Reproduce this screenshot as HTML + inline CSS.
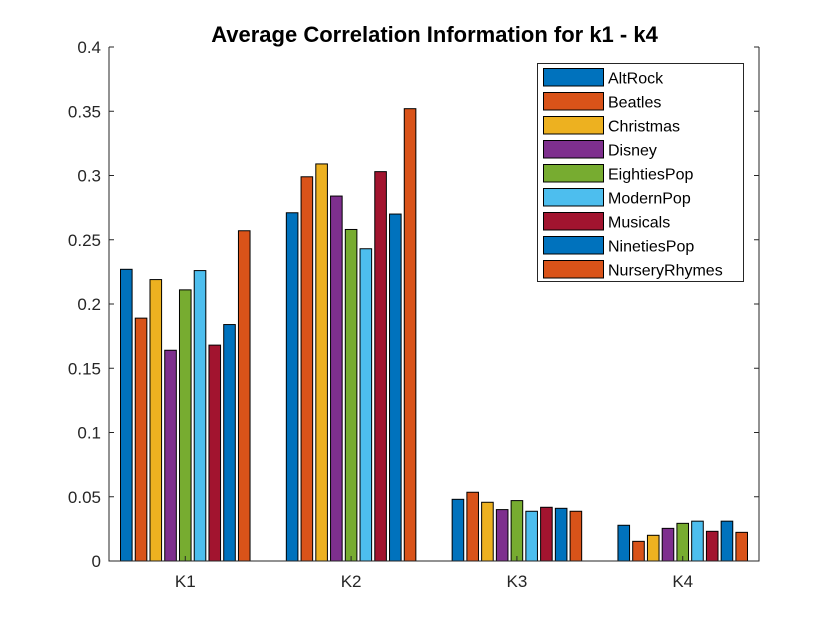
<!DOCTYPE html>
<html><head><meta charset="utf-8"><style>
body{margin:0;background:#fff;}
svg{font-family:"Liberation Sans",Arial,sans-serif;}
</style></head><body>
<svg id="chart" width="840" height="630">
<rect width="840" height="630" fill="#fff"/>
<text x="434.5" y="42" text-anchor="middle" font-weight="bold" font-size="22" fill="#000">Average Correlation Information for k1 - k4</text>
<g id="bars"></g>
<g id="axes"></g>
<g id="legend"></g>
</svg>
<script>
const categories = ["K1","K2","K3","K4"];
const seriesNames = ["AltRock","Beatles","Christmas","Disney","EightiesPop","ModernPop","Musicals","NinetiesPop","NurseryRhymes"];
const colors = ["#0072BD","#D95319","#EDB120","#7E2F8E","#77AC30","#4DBEEE","#A2142F","#0072BD","#D95319"];
const altRock = [0.227,0.271,0.048,0.0278];
const beatles = [0.189,0.299,0.0535,0.0153];
const christmas = [0.219,0.309,0.0457,0.020];
const disney = [0.164,0.284,0.040,0.0254];
const eightiesPop = [0.211,0.258,0.047,0.0293];
const modernPop = [0.226,0.243,0.0387,0.031];
const musicals = [0.168,0.303,0.0418,0.0231];
const ninetiesPop = [0.184,0.270,0.041,0.031];
const nurseryRhymes = [0.257,0.352,0.0387,0.0223];
const yTicks = [0,0.05,0.1,0.15,0.2,0.25,0.3,0.35,0.4];
const yTickLabels = ["0","0.05","0.1","0.15","0.2","0.25","0.3","0.35","0.4"];
const series = [altRock,beatles,christmas,disney,eightiesPop,modernPop,musicals,ninetiesPop,nurseryRhymes];

const NS="http://www.w3.org/2000/svg";
const L=109,R=759,T=47,B=561;
const xMin=0.54,xMax=4.46;
function xs(v){return L+(v-xMin)/(xMax-xMin)*(R-L);}
function ys(v){return B-v/0.4*(B-T);}
function mk(tag,attrs,parent){const e=document.createElementNS(NS,tag);for(const k in attrs)e.setAttribute(k,attrs[k]);parent.appendChild(e);return e;}
const gb=document.getElementById('bars'),ga=document.getElementById('axes'),gl=document.getElementById('legend');
const step=14.75/165.9, bw=11.6/165.9;
series.forEach((vals,s)=>{
  vals.forEach((v,c)=>{
    const cx=(c+1)+(s-4)*step;
    const x0=xs(cx-bw/2),x1=xs(cx+bw/2);
    const r=mk('rect',{x:x0,y:ys(v),width:x1-x0,height:ys(0)-ys(v),fill:colors[s],stroke:'#000','stroke-width':1},gb);
    
    
  });
});
const frame=mk('path',{d:`M${L},${T}V${B}H${R}V${T}`,fill:'none',stroke:'#262626','stroke-width':1},ga);


yTicks.forEach((t,i)=>{
  const y=ys(t);
  mk('line',{x1:L,x2:L+5,y1:y,y2:y,stroke:'#262626'},ga);
  mk('line',{x1:R,x2:R-5,y1:y,y2:y,stroke:'#262626'},ga);
  const tx=mk('text',{x:L-8,y:y+6,'text-anchor':'end','font-size':17,fill:'#262626'},ga);
  tx.textContent=yTickLabels[i];
  
  
});
categories.forEach((c,i)=>{
  const x=xs(i+1);
  mk('line',{x1:x,x2:x,y1:B,y2:B-5,stroke:'#262626'},ga);
  const tx=mk('text',{x:x,y:B+26,'text-anchor':'middle','font-size':17,fill:'#262626'},ga);
  tx.textContent=c;
  
  
});
const lb=mk('rect',{x:537.5,y:63.5,width:206,height:218,fill:'#fff',stroke:'#262626'},gl);


seriesNames.forEach((n,i)=>{
  const y=68.5+i*24;
  const sw=mk('rect',{x:543.5,y:y,width:60,height:17.5,fill:colors[i],stroke:'#000'},gl);
  
  
  const tx=mk('text',{x:608,y:y+15,'font-size':16,fill:'#000'},gl);
  tx.textContent=n;
  
  
});
</script>
</body></html>
